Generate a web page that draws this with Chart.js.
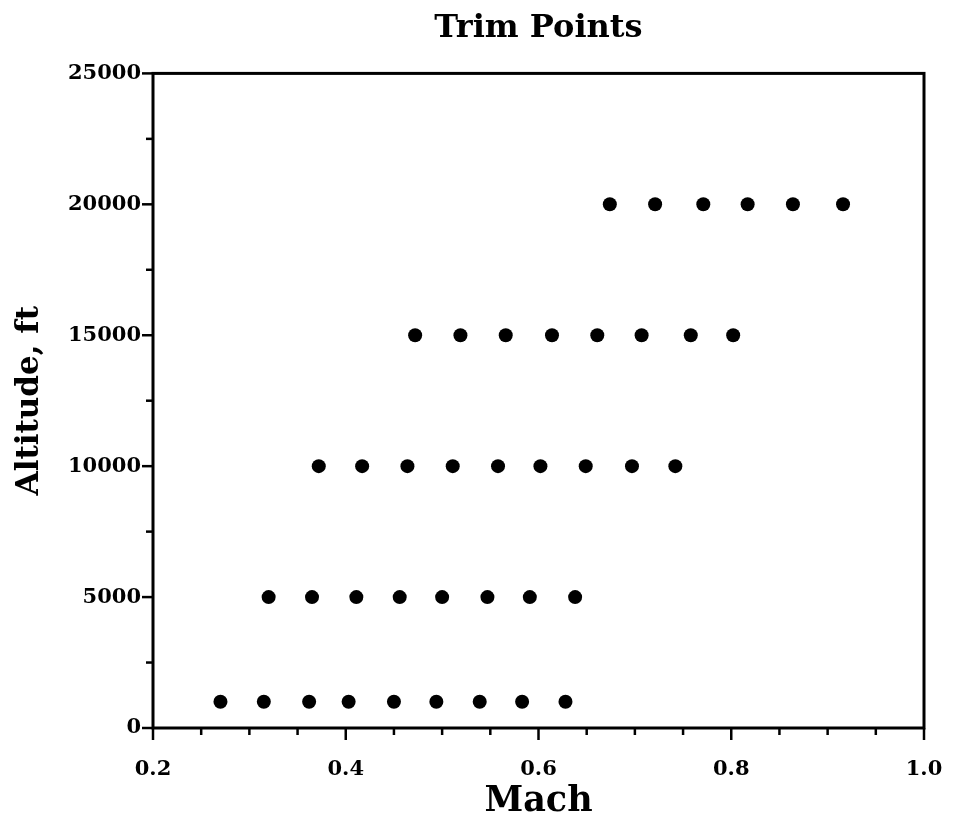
<!DOCTYPE html>
<html>
<head>
<meta charset="utf-8">
<title>Trim Points</title>
<script src="https://cdn.jsdelivr.net/npm/chart.js@4.4.1/dist/chart.umd.min.js"></script>
<style>
  html, body { margin: 0; padding: 0; background: #fff; }
  #wrap { width: 954px; height: 822px; position: relative; }
</style>
</head>
<body>
<div id="wrap"><canvas id="trimChart"></canvas></div>
<script>
// Trim point Mach numbers, one list per altitude (ft)
const altitudes = [1000, 5000, 10000, 15000, 20000];
const mach1000 = [0.270, 0.315, 0.362, 0.403, 0.450, 0.494, 0.539, 0.583, 0.628];
const mach5000 = [0.320, 0.365, 0.411, 0.456, 0.500, 0.547, 0.591, 0.638];
const mach10000 = [0.372, 0.417, 0.464, 0.511, 0.558, 0.602, 0.649, 0.697, 0.742];
const mach15000 = [0.472, 0.519, 0.566, 0.614, 0.661, 0.707, 0.758, 0.802];
const mach20000 = [0.674, 0.721, 0.771, 0.817, 0.864, 0.916];

// Axis ranges and labelled ticks
const xMajorTicks = [0.2, 0.4, 0.6, 0.8, 1.0];
const yMajorTicks = [0, 5000, 10000, 15000, 20000, 25000];

const serif = '"DejaVu Serif", "Liberation Serif", serif';
const machRows = [mach1000, mach5000, mach10000, mach15000, mach20000];

const datasets = machRows.map((row, i) => ({
    label: altitudes[i] + ' ft',
    data: row.map(m => ({ x: m, y: altitudes[i] })),
    backgroundColor: '#000',
    borderWidth: 0,
    pointRadius: 7,
    pointHoverRadius: 7
}));

function isMajor(list, v) {
    return list.some(t => Math.abs(t - v) < 1e-6);
}

// Frame plus outward ticks: long at labelled values, short in between
const frameTicks = {
    id: 'frameTicks',
    afterDraw(chart) {
        const { ctx, chartArea: a, scales } = chart;
        ctx.save();
        ctx.strokeStyle = '#000';
        ctx.lineWidth = 2.5;
        scales.x.ticks.forEach(t => {
            const px = scales.x.getPixelForValue(t.value);
            const len = isMajor(xMajorTicks, t.value) ? 12 : 7;
            ctx.beginPath();
            ctx.moveTo(px, a.bottom);
            ctx.lineTo(px, a.bottom + len);
            ctx.stroke();
        });
        scales.y.ticks.forEach(t => {
            const py = scales.y.getPixelForValue(t.value);
            const len = isMajor(yMajorTicks, t.value) ? 11 : 7;
            ctx.beginPath();
            ctx.moveTo(a.left, py);
            ctx.lineTo(a.left - len, py);
            ctx.stroke();
        });
        ctx.lineWidth = 3;
        ctx.strokeRect(a.left, a.top, a.right - a.left, a.bottom - a.top);
        ctx.restore();
    }
};

new Chart(document.getElementById('trimChart'), {
    type: 'scatter',
    data: { datasets },
    options: {
        responsive: true,
        maintainAspectRatio: false,
        animation: false,
        layout: { padding: { left: 0, right: 30, top: 0, bottom: 0 } },
        plugins: {
            legend: { display: false },
            tooltip: { enabled: false },
            title: {
                display: true,
                text: 'Trim Points',
                fullSize: false,
                color: '#000',
                font: { family: serif, size: 32, weight: 'bold' },
                padding: { top: 9, bottom: 26 }
            }
        },
        scales: {
            x: {
                type: 'linear',
                min: 0.2,
                max: 1.0,
                afterFit: s => { s.height = 94; s.paddingRight = 30; s.paddingLeft = 0; },
                grid: { display: false, drawTicks: false },
                border: { display: false },
                ticks: {
                    stepSize: 0.05,
                    autoSkip: false,
                    maxRotation: 0,
                    padding: 29,
                    color: '#000',
                    font: { family: serif, size: 21, weight: 'bold' },
                    callback: v => isMajor(xMajorTicks, v) ? v.toFixed(1) : ''
                },
                title: {
                    display: true,
                    text: 'Mach',
                    color: '#000',
                    font: { family: serif, size: 35, weight: 'bold' },
                    padding: { top: 0, bottom: -1 }
                }
            },
            y: {
                type: 'linear',
                min: 0,
                max: 25000,
                afterFit: s => { s.width = 153; },
                grid: { display: false, drawTicks: false },
                border: { display: false },
                ticks: {
                    stepSize: 2500,
                    autoSkip: false,
                    padding: 12,
                    color: '#000',
                    font: { family: serif, size: 21, weight: 'bold' },
                    callback: v => isMajor(yMajorTicks, v) ? String(v) : ''
                },
                title: {
                    display: true,
                    text: 'Altitude, ft',
                    color: '#000',
                    font: { family: serif, size: 31, weight: 'bold' },
                    padding: { top: 11, bottom: 0 }
                }
            }
        }
    },
    plugins: [frameTicks]
});
</script>
</body>
</html>
